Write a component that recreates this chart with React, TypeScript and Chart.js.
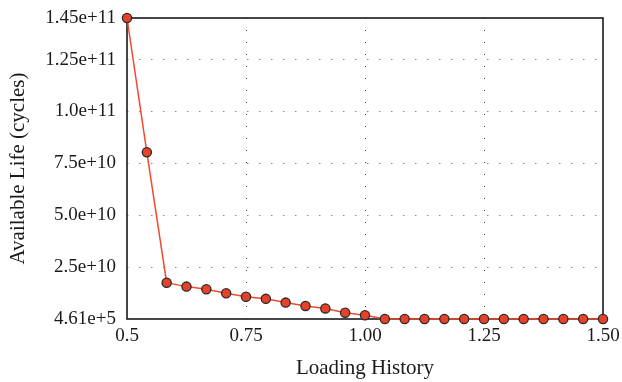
import React, { useEffect, useRef } from "react";
import { Chart, registerables } from "chart.js";

Chart.register(...registerables);

const loadingHistory = [
  0.5, 0.5417, 0.5833, 0.625, 0.6667, 0.7083, 0.75, 0.7917, 0.8333, 0.875,
  0.9167, 0.9583, 1.0, 1.0417, 1.0833, 1.125, 1.1667, 1.2083, 1.25, 1.2917,
  1.3333, 1.375, 1.4167, 1.4583, 1.5,
];
const availableLife = [
  1.45e11, 8.03e10, 1.75e10, 1.56e10, 1.43e10, 1.24e10, 1.07e10, 0.97e10,
  0.79e10, 0.63e10, 0.51e10, 0.3e10, 0.18e10, 4.61e5, 4.61e5, 4.61e5, 4.61e5,
  4.61e5, 4.61e5, 4.61e5, 4.61e5, 4.61e5, 4.61e5, 4.61e5, 4.61e5,
];
const xTickValues = [0.5, 0.75, 1.0, 1.25, 1.5];
const xTickLabels = ["0.5", "0.75", "1.00", "1.25", "1.50"];
const yTickValues = [4.61e5, 2.5e10, 5e10, 7.5e10, 1e11, 1.25e11, 1.45e11];
const yTickLabels = [
  "4.61e+5",
  "2.5e+10",
  "5.0e+10",
  "7.5e+10",
  "1.0e+11",
  "1.25e+11",
  "1.45e+11",
];

const FONT = "'Liberation Serif', 'Times New Roman', serif";

const framePlugin = {
  id: "frame",
  beforeDatasetsDraw(chart: any) {
    const { ctx, chartArea } = chart;
    ctx.save();
    ctx.strokeStyle = "#1a1a1a";
    ctx.lineWidth = 1.6;
    ctx.strokeRect(
      chartArea.left,
      chartArea.top,
      chartArea.right - chartArea.left,
      chartArea.bottom - chartArea.top
    );
    ctx.restore();
  },
};

export default function App() {
  const ref = useRef<HTMLCanvasElement | null>(null);
  useEffect(() => {
    document.body.style.margin = "0";
    const canvas = ref.current!;
    const chart = new Chart(canvas, {
      type: "line",
      data: {
        datasets: [
          {
            data: loadingHistory.map((x, i) => ({ x, y: availableLife[i] })),
            borderColor: "#f04a2e",
            borderWidth: 1.5,
            pointBackgroundColor: "#e8412a",
            pointBorderColor: "#2a2a2a",
            pointBorderWidth: 1.3,
            pointRadius: 4.6,
            tension: 0,
            clip: false as any,
          },
        ],
      },
      options: {
        animation: false,
        responsive: false,
        maintainAspectRatio: false,
        plugins: { legend: { display: false }, tooltip: { enabled: false } },
        layout: { padding: { top: 18, right: 19, left: 0, bottom: 0 } },
        scales: {
          x: {
            type: "linear",
            min: 0.5,
            max: 1.5,
            afterBuildTicks: (s: any) => {
              s.ticks = xTickValues.map((v) => ({ value: v }));
            },
            afterFit: (s: any) => {
              s.height = 63;
              s.paddingLeft = 0;
              s.paddingRight = 0;
            },
            ticks: {
              autoSkip: false,
              maxRotation: 0,
              padding: 6,
              color: "#1a1a1a",
              font: { family: FONT, size: 19 },
              callback: (v: any) => {
                const i = xTickValues.indexOf(Number(v));
                return i >= 0 ? xTickLabels[i] : "";
              },
            },
            grid: {
              drawTicks: false,
              lineWidth: 1,
              color: (c: any) =>
                c.index === 0 || c.index === xTickValues.length - 1
                  ? "rgba(0,0,0,0)"
                  : "#444",
            },
            border: { display: false, dash: [1, 11] },
            title: {
              display: true,
              text: "Loading History",
              color: "#1a1a1a",
              font: { family: FONT, size: 21 },
              padding: { top: 0, bottom: 1 },
            },
          },
          y: {
            type: "linear",
            min: 4.61e5,
            max: 1.45e11,
            afterBuildTicks: (s: any) => {
              s.ticks = yTickValues.map((v) => ({ value: v }));
            },
            afterFit: (s: any) => {
              s.width = 127;
              s.paddingTop = 0;
              s.paddingBottom = 0;
            },
            ticks: {
              autoSkip: false,
              padding: 11,
              color: "#1a1a1a",
              font: { family: FONT, size: 19 },
              callback: (v: any) => {
                const i = yTickValues.indexOf(Number(v));
                return i >= 0 ? yTickLabels[i] : "";
              },
            },
            grid: {
              drawTicks: false,
              lineWidth: 1,
              color: (c: any) =>
                c.index === 0 || c.index === yTickValues.length - 1
                  ? "rgba(0,0,0,0)"
                  : "#888",
            },
            border: { display: false, dash: [1.5, 10.5] },
            title: {
              display: true,
              text: "Available Life (cycles)",
              color: "#1a1a1a",
              font: { family: FONT, size: 21 },
              padding: { top: 6, bottom: 0 },
            },
          },
        },
      },
      plugins: [framePlugin],
    });
    return () => chart.destroy();
  }, []);
  return (
    <div style={{ position: "fixed", left: 0, top: 0, width: 622, height: 382 }}>
      <canvas ref={ref} width={622} height={382} style={{ width: 622, height: 382 }} />
    </div>
  );
}
